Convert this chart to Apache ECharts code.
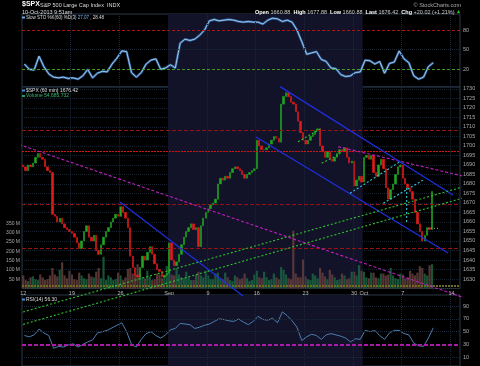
<!DOCTYPE html>
<html><head><meta charset="utf-8">
<script src="https://cdn.jsdelivr.net/npm/echarts@6/dist/echarts.min.js"></script>
<style>html,body{margin:0;padding:0;background:#000;}#c{width:480px;height:366px;}</style>
</head><body><div id="c"></div>
<script>
// ---------- DATA ----------
const tradingDays = ['Aug 12','Aug 13','Aug 14','Aug 15','Aug 16','Aug 19','Aug 20','Aug 21','Aug 22','Aug 23',
  'Aug 26','Aug 27','Aug 28','Aug 29','Aug 30','Sep 3','Sep 4','Sep 5','Sep 6','Sep 9','Sep 10','Sep 11','Sep 12',
  'Sep 13','Sep 16','Sep 17','Sep 18','Sep 19','Sep 20','Sep 23','Sep 24','Sep 25','Sep 26','Sep 27','Sep 30',
  'Oct 1','Oct 2','Oct 3','Oct 4','Oct 7','Oct 8','Oct 9','Oct 10','Oct 11','Oct 14'];
const SLOTS = 4; // bars per trading day
const tickDays = [0,5,10,15,19,24,29,34,35,39,44];
const tickText = ['12','19','26','Sep','9','16','23','30','Oct','7','14'];
const gridDays = [5,10,19,24,29,34,39,44];
const monthShade = [15,35];

const firstOpen = 1690;
const closes = [
 1689,1687,1690,1689, 1691,1694,1696,1694, 1693,1689,1687,1686, 1664,1663,1660,1662, 1659,1657,1656,1655,
 1654,1652,1649,1646, 1650,1655,1658,1652, 1650,1653,1645,1643, 1648,1652,1655,1657, 1660,1662,1664,1663,
 1668,1665,1662,1657, 1642,1636,1632,1631, 1636,1642,1640,1644, 1647,1643,1638,1635, 1634,1631,1632,1633,
 1649,1640,1637,1639, 1643,1648,1652,1655, 1657,1659,1656,1657, 1647,1658,1662,1665, 1667,1669,1670,1672,
 1680,1683,1682,1684, 1683,1686,1688,1689, 1688,1687,1685,1683, 1685,1686,1687,1688, 1703,1700,1698,1698,
 1699,1701,1703,1705, 1704,1702,1722,1726, 1728,1726,1723,1722, 1718,1713,1707,1703, 1701,1703,1705,1706,
 1708,1709,1700,1697, 1694,1697,1693,1692, 1694,1696,1698,1697, 1699,1694,1691,1692, 1679,1682,1684,1681,
 1694,1695,1693,1695, 1686,1684,1690,1693, 1688,1678,1672,1677, 1680,1685,1689,1690, 1683,1680,1678,1676,
 1672,1665,1659,1655, 1650,1653,1657,1656, 1676];
const volumes = [
 70,45,40,60, 65,50,45,75, 60,45,50,70, 110,75,65,100, 140,70,55,95,
 75,50,45,85, 70,55,50,80, 65,60,90,110, 55,170,45,70, 60,45,50,85,
 70,45,60,105, 110,80,75,130, 80,60,55,95, 65,45,50,80, 75,55,70,120,
 100,75,70,110, 75,60,55,90, 60,45,45,75, 90,70,60,95, 70,50,50,80,
 85,55,50,85, 60,45,40,70, 60,50,55,80, 55,40,45,75, 95,60,55,90,
 60,45,50,80, 60,50,115,100, 75,55,50,310, 80,60,60,155, 65,50,45,80,
 70,55,110,85, 65,50,100,75, 60,45,50,80, 70,50,55,90, 90,70,125,95,
 90,60,55,85, 85,60,55,80, 80,70,75,110, 70,55,50,80, 75,55,60,95,
 80,70,85,120, 110,80,70,125, 130];
// two readings per trading day
const stoK = [28,20,19,40,24,13,8,7,8,6, 7,5,10,20,7,14,17,16,28,37, 48,47,15,8,15,28,34,36,20,22,
 27,22,60,66,64,66,72,80,94,96, 94,95,96,95,93,92,93,92,92,89, 95,98,97,93,95,92,80,62,43,45,
 47,35,32,22,21,12,9,10,15,16, 34,33,28,32,14,29,31,48,36,30, 10,5,8,24,30];
const rsi14 = [44,42,45,54,48,44,24,27,26,29, 31,26,30,34,37,48,50,52,56,60, 64,50,30,26,38,47,50,44,40,45,
 53,55,63,62,61,55,57,60,62,66, 70,69,67,66,70,65,61,66,74,69, 68,71,64,81,75,67,57,36,42,46,
 44,38,45,47,45,43,40,34,39,38, 52,50,52,44,38,48,52,52,47,45, 32,28,27,40,56];
const priceLevels = [1708.5,1697,1669.5,1646];
const stoLevels = [80,50,20];
const rsiLevels = [90,70,50,30,10];
// trendline end points: [day position, price]
const magentaLines = [[[-2.26,1704.2],[45.21,1620.5]], [[32.47,1699.6],[45.51,1683.9]]];
const blueLines = [[[26.51,1731.2],[44.28,1674.2]], [[24.04,1704.7],[43.77,1643.7]], [[10.07,1670.5],[22.71,1621.1]]];
const greenLines = [[[-2.26,1609.2],[47.06,1681.0]], [[-2.26,1602.6],[47.06,1675.2]],
  [[28.36,1702.2],[30.79,1709.3]], [[30.79,1690.9],[32.67,1695.8]]];
const cyanLines = [[[33.70,1675.1],[38.84,1691.7]], [[37.12,1669.8],[41.23,1682.1]], [[39.52,1677.9],[39.52,1660.0]]];
const grayLines = [[[41.71,1656.6],[42.74,1656.6]]];

// ---------- BUILD ----------
const FONT = '"Liberation Sans", Arial, sans-serif';
const SHADE = '#121229', GRIDC = '#1c2838', BORDER = '#2a3848';
const slotCats = []; tradingDays.forEach(d => { for (let k = 0; k < SLOTS; k++) slotCats.push(d + ' #' + (k + 1)); });
const tickSlot = {}; tickDays.forEach((d, i) => tickSlot[d * SLOTS] = tickText[i]);
const candles = closes.map((c, i) => { const o = i ? closes[i - 1] : firstOpen; return [o, c, Math.min(o, c), Math.max(o, c)]; });
const volData = volumes.map((v, i) => ({ value: v, itemStyle: { color: closes[i] >= candles[i][0] ? 'rgba(28,105,66,0.8)' : 'rgba(105,66,62,0.8)' } }));
const stoPts = stoK.map((v, i) => [(i + 0.5) / 2, v]);
const rsiPts = rsi14.map((v, i) => [(i + 0.5) / 2, v]);

function shadeSeries(xi, yi) {
  return { type: 'line', xAxisIndex: xi, yAxisIndex: yi, data: [], z: 1, silent: true,
    markArea: { silent: true, itemStyle: { color: SHADE }, data: [[{ xAxis: monthShade[0] }, { xAxis: monthShade[1] }]] },
    markLine: { silent: true, symbol: ['none', 'none'], label: { show: false },
      lineStyle: { color: GRIDC, type: 'dotted', width: 1 }, data: gridDays.map(d => ({ xAxis: d })) } };
}
function levelLines(levels, styleFn, withLabel) {
  return levels.map(v => ({ yAxis: v, lineStyle: styleFn(v),
    label: withLabel ? { show: true, position: 'end', formatter: String(v), color: '#aaa', fontSize: 5.5, fontFamily: FONT, distance: 3 } : { show: false } }));
}
function trend(lines, color, type, width) {
  return lines.map(seg => ({ type: 'line', xAxisIndex: 2, yAxisIndex: 1, data: seg, clip: false, z: 5, silent: true,
    symbol: 'none', lineStyle: { color: color, type: type, width: width } }));
}

const option = {
  backgroundColor: '#000', animation: false,
  grid: [
    { left: 22, right: 20, top: 14, height: 73, show: true, backgroundColor: '#000', borderColor: BORDER, borderWidth: 1, outerBoundsMode: 'none' },
    { left: 22, right: 20, top: 87, height: 201.5, show: true, backgroundColor: '#000', borderColor: BORDER, borderWidth: 1, outerBoundsMode: 'none' },
    { left: 22, right: 20, top: 295, height: 71, show: true, backgroundColor: '#000', borderColor: BORDER, borderWidth: 1, outerBoundsMode: 'none' }
  ],
  xAxis: [
    { type: 'value', gridIndex: 0, min: 0, max: 45, show: false },
    { type: 'category', gridIndex: 1, data: slotCats, boundaryGap: true,
      axisLine: { show: false }, axisTick: { show: false }, splitLine: { show: false },
      axisLabel: { interval: i => tickSlot[i] !== undefined, formatter: (v, i) => tickSlot[i] || '',
        color: '#bbb', fontSize: 5.5, fontFamily: FONT, margin: 2, hideOverlap: false } },
    { type: 'value', gridIndex: 1, min: 0, max: 45, show: false },
    { type: 'value', gridIndex: 2, min: 0, max: 45, show: false }
  ],
  yAxis: [
    { type: 'value', gridIndex: 0, min: -7, max: 104.4, show: false },
    { type: 'value', gridIndex: 1, position: 'right', min: 1625, max: 1731, interval: 5,
      axisLine: { show: false }, axisTick: { show: false },
      axisLabel: { color: '#aaa', fontSize: 5.5, fontFamily: FONT, margin: 3, hideOverlap: false,
        formatter: v => (v % 5 === 0 && v >= 1630 && v <= 1730) ? String(v) : '' },
      splitLine: { show: true, lineStyle: { color: '#172231', type: 'dotted', width: 1 } } },
    { type: 'value', gridIndex: 1, position: 'left', min: 0, max: 1080, interval: 50,
      axisLine: { show: false }, axisTick: { show: false }, splitLine: { show: false },
      axisLabel: { color: '#aaa', fontSize: 5, fontFamily: FONT, margin: 2, hideOverlap: false,
        formatter: v => (v >= 50 && v <= 350) ? v + ' M' : '' } },
    { type: 'value', gridIndex: 2, min: -3.6, max: 107.3, show: false }
  ],
  series: [
    shadeSeries(0, 0),
    { type: 'line', xAxisIndex: 0, yAxisIndex: 0, data: stoPts, symbol: 'none', z: 3, silent: true,
      lineStyle: { color: '#2f5f98', width: 2.4 },
      markLine: { silent: true, symbol: ['none', 'none'],
        data: levelLines(stoLevels, v => v === 80 ? { color: '#b01212', type: [3, 2], width: 1 } :
          v === 20 ? { color: '#3d9a1e', type: [3, 2], width: 1 } : { color: GRIDC, type: 'dotted', width: 1 }, true) } },
    { type: 'line', xAxisIndex: 0, yAxisIndex: 0, data: stoPts, symbol: 'none', z: 4, silent: true,
      lineStyle: { color: '#a9d2f3', width: 0.9 } },
    shadeSeries(2, 1),
    { type: 'bar', xAxisIndex: 1, yAxisIndex: 2, data: volData, barWidth: '90%', z: 2, silent: true,
      markLine: { silent: true, symbol: ['none', 'none'], label: { show: false },
        data: [{ yAxis: 16, lineStyle: { color: '#6e6a22', type: [2, 1], width: 2 } }] } },
    { type: 'candlestick', xAxisIndex: 1, yAxisIndex: 1, data: candles, barWidth: 1.9, z: 3, silent: true,
      itemStyle: { color: '#1fa51f', color0: '#e01b1b', borderColor: '#1fa51f', borderColor0: '#e01b1b', borderWidth: 0.6 },
      markLine: { silent: true, symbol: ['none', 'none'], label: { show: false },
        data: priceLevels.map((p, i) => ({ yAxis: p, lineStyle: i === 1 ? { color: '#cc1616', type: [2, 1], width: 1.2 } : { color: '#951313', type: [4, 2], width: 1 } })) } },
    ...trend(magentaLines, '#c21fc2', [3, 2], 1.1),
    ...trend(blueLines, '#1f2fe0', 'solid', 1.2),
    ...trend(greenLines, '#2fc22f', [2, 2], 1.1),
    ...trend(cyanLines, '#2fc8d8', [2, 2], 1.1),
    ...trend(grayLines, '#888888', [1, 2], 1.2),
    shadeSeries(3, 3),
    { type: 'line', xAxisIndex: 3, yAxisIndex: 3, data: rsiPts, symbol: 'none', z: 4, silent: true,
      lineStyle: { color: '#4a7db0', width: 1 },
      markLine: { silent: true, symbol: ['none', 'none'],
        data: levelLines(rsiLevels, v => v === 30 ? { color: '#a81ca8', type: [4, 2], width: 2 } : { color: GRIDC, type: 'dotted', width: 1 }, true) } }
  ],
  graphic: [
    { type: 'text', z: 100, x: 22, y: 1, style: { text: '$SPX', fill: '#fff', font: 'bold 7px ' + FONT, verticalAlign: 'top' } },
    { type: 'text', z: 100, x: 40, y: 2, style: { text: 'S&P 500 Large Cap Index  INDX', fill: '#ddd', font: '5.5px ' + FONT, verticalAlign: 'top' } },
    { type: 'text', z: 100, x: 22, y: 9, style: { text: '10-Oct-2013 9:51am', fill: '#ddd', font: '5.5px ' + FONT, verticalAlign: 'top' } },
    { type: 'text', z: 100, x: 461, y: 2, style: { text: '© StockCharts.com', fill: '#aaa', font: '5.5px ' + FONT, align: 'right', verticalAlign: 'top' } },
    { type: 'text', z: 100, x: 461, y: 9, style: { align: 'right', verticalAlign: 'top', font: '5.5px ' + FONT, fill: '#ccc',
        text: '{b|Open} 1660.88  {b|High} 1677.88  {b|Low} 1660.88  {b|Last} 1676.42  {b|Chg} +20.02 (+1.21%) {g|▲}',
        rich: { b: { fill: '#fff', fontWeight: 'bold', fontSize: 5.5, fontFamily: FONT }, g: { fill: '#2c2', fontSize: 5, fontFamily: FONT } } } },
    { type: 'rect', z: 100, shape: { x: 22, y: 16.5, width: 3, height: 2 }, style: { fill: '#6aa6e0' } },
    { type: 'text', z: 100, x: 26, y: 15, style: { verticalAlign: 'top', font: '4.5px ' + FONT, fill: '#ddd',
        text: 'Slow STO %K(60) %D(3) {b|27.07} , 28.48', rich: { b: { fill: '#7fb6ea', fontSize: 4.5, fontFamily: FONT } } } },
    { type: 'rect', z: 100, shape: { x: 22, y: 89.5, width: 3, height: 2 }, style: { fill: '#4a8ad0' } },
    { type: 'text', z: 100, x: 26, y: 88, style: { text: '$SPX (60 min) 1676.42', fill: '#ddd', font: '5px ' + FONT, verticalAlign: 'top' } },
    { type: 'rect', z: 100, shape: { x: 22, y: 95, width: 3, height: 2 }, style: { fill: '#2a9a6a' } },
    { type: 'text', z: 100, x: 26, y: 93.5, style: { text: 'Volume 54,685,732', fill: '#3cb878', font: '5px ' + FONT, verticalAlign: 'top' } },
    { type: 'rect', z: 100, shape: { x: 22, y: 298.5, width: 3, height: 2 }, style: { fill: '#4a8ad0' } },
    { type: 'text', z: 100, x: 26, y: 297, style: { text: 'RSI(14) 56.30', fill: '#ddd', font: '5px ' + FONT, verticalAlign: 'top' } }
  ]
};
const chart = echarts.init(document.getElementById('c'), null, { renderer: 'canvas', width: 480, height: 366 });
chart.setOption(option);
</script></body></html>
